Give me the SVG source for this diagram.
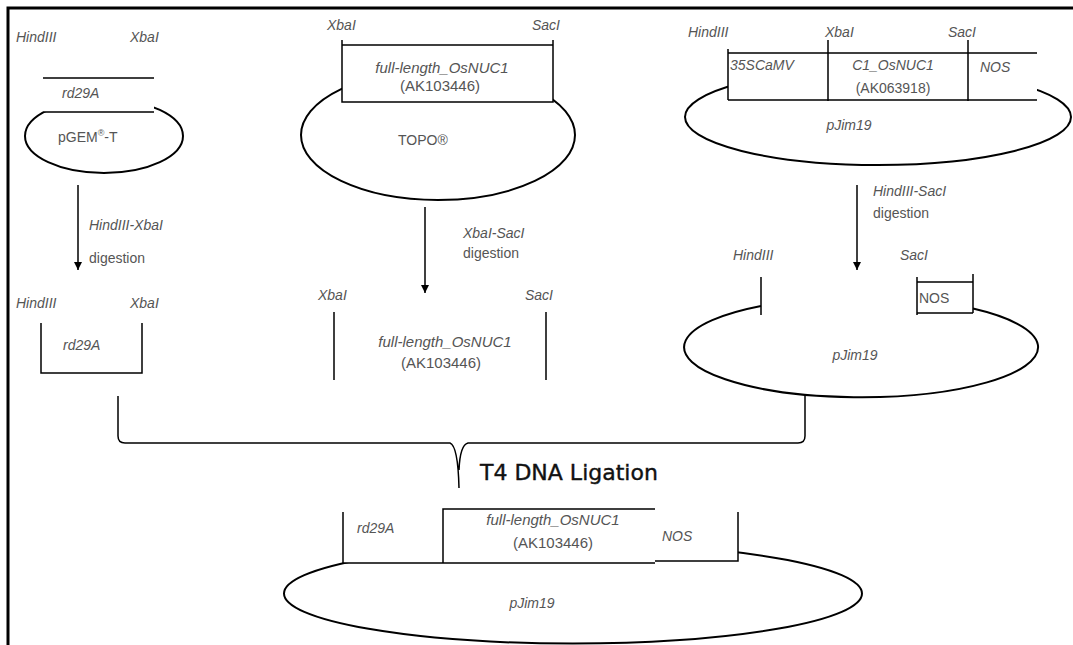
<svg xmlns="http://www.w3.org/2000/svg" width="1073" height="645" viewBox="0 0 1073 645">
<defs>
<marker id="ah" viewBox="0 0 10 10" refX="10" refY="5" markerWidth="8" markerHeight="8" markerUnits="userSpaceOnUse" orient="auto">
<path d="M0,0 L10,5 L0,10 z" fill="#000"/>
</marker>
</defs>
<style>
.ln{stroke:#000;stroke-width:1.5;fill:none}
.el{stroke:#000;stroke-width:2;fill:none}
.wb{fill:#fff;stroke:none}
.t{font-family:"Liberation Sans",Arial,sans-serif;font-size:14px;fill:#555}
.i{font-style:italic}
.g{font-size:15px}
.m{text-anchor:middle}
.big{font-family:"DejaVu Sans",Verdana,sans-serif;font-size:22px;fill:#111;stroke:#111;stroke-width:0.4}
</style>
<rect width="1073" height="645" fill="#fff"/>
<path d="M8 645 V8 H1073" stroke="#000" stroke-width="3" fill="none"/>

<g id="pgem">
<ellipse class="el" cx="104" cy="136" rx="79" ry="37"/>
<rect class="wb" x="43" y="78" width="111" height="34"/>
<path class="ln" d="M43 78 H154 M43 112 H154"/>
<text class="t i" x="16" y="42">HindIII</text>
<text class="t i" x="130" y="42">XbaI</text>
<text class="t i" x="62" y="98">rd29A</text>
<text class="t" x="58" y="142">pGEM<tspan font-size="9" dy="-6">®</tspan><tspan dy="6">-T</tspan></text>
</g>

<g id="rd29a-fragment">
<path class="ln" d="M41 323 V373 H142 V323"/>
<text class="t i" x="16" y="308">HindIII</text>
<text class="t i" x="130" y="308">XbaI</text>
<text class="t i" x="63" y="350">rd29A</text>
</g>

<g id="topo">
<ellipse class="el" cx="438" cy="135" rx="137" ry="65"/>
<rect class="wb" x="342" y="45" width="211" height="57"/>
<path class="ln" d="M342 40 V102 H553 V40 M342 45 H553"/>
<text class="t i" x="327" y="30">XbaI</text>
<text class="t i" x="532" y="30">SacI</text>
<text class="t g i m" x="442" y="73">full-length_OsNUC1</text>
<text class="t g m" x="440" y="91">(AK103446)</text>
<text class="t" x="398" y="145">TOPO®</text>
</g>

<g id="osnuc1-fragment">
<path class="ln" d="M334 312 V380 M546 312 V380"/>
<text class="t i" x="318" y="300">XbaI</text>
<text class="t i" x="525" y="300">SacI</text>
<text class="t g i m" x="445" y="347">full-length_OsNUC1</text>
<text class="t g m" x="441" y="368">(AK103446)</text>
</g>

<g id="pjim19-c1">
<ellipse class="el" cx="878" cy="117" rx="193" ry="48"/>
<rect class="wb" x="728" y="53" width="309" height="47"/>
<path class="ln" d="M728 49 V100 M828 40 V101 M968 40 V101 M728 53 H1037 M728 100 H1037"/>
<text class="t i" x="688" y="37">HindIII</text>
<text class="t i" x="825" y="37">XbaI</text>
<text class="t i" x="948" y="37">SacI</text>
<text class="t i" x="730" y="70" font-size="12">35SCaMV</text>
<text class="t i m" x="893" y="70">C1_OsNUC1</text>
<text class="t m" x="893" y="93">(AK063918)</text>
<text class="t i" x="980" y="72">NOS</text>
<text class="t i m" x="849" y="130">pJim19</text>
</g>

<g id="pjim19-cut">
<path class="el" d="M761 306 A177 50 0 1 0 973 308.5"/>
<path class="ln" d="M761 277 V315 M917 277 V315 M973 274 V313 M917 282 H973 M917 313 H973"/>
<text class="t i" x="733" y="260">HindIII</text>
<text class="t i" x="900" y="260">SacI</text>
<text class="t" x="919" y="303" font-size="13">NOS</text>
<text class="t i m" x="855" y="360">pJim19</text>
</g>

<g id="final">
<ellipse class="el" cx="573" cy="593.5" rx="289" ry="50"/>
<rect class="wb" x="343" y="509" width="395" height="54"/>
<path class="ln" d="M343 512 V563 H655 M443 563 V509 H655 M655 561 H738 V512"/>
<text class="t i" x="357" y="533">rd29A</text>
<text class="t g i m" x="553" y="525">full-length_OsNUC1</text>
<text class="t g m" x="553" y="548">(AK103446)</text>
<text class="t i" x="662" y="541">NOS</text>
<text class="t i m" x="532" y="608">pJim19</text>
</g>

<g id="connectors">
<path class="ln" d="M78 185 V270" marker-end="url(#ah)"/>
<text class="t i" x="89" y="230">HindIII-XbaI</text>
<text class="t" x="89" y="263">digestion</text>
<path class="ln" d="M425 207 V293" marker-end="url(#ah)"/>
<text class="t i" x="463" y="238">XbaI-SacI</text>
<text class="t" x="463" y="258">digestion</text>
<path class="ln" d="M857 185 V270" marker-end="url(#ah)"/>
<text class="t i" x="873" y="196">HindIII-SacI</text>
<text class="t" x="873" y="218">digestion</text>
<path class="ln" d="M118 396 V436 Q118 443 125 443 H450 Q458 446 459 488 M459 470 Q460 445 468 443 H798 Q805 443 805 436 V395"/>
<text class="big" x="480" y="480">T4 DNA Ligation</text>
</g>
</svg>
